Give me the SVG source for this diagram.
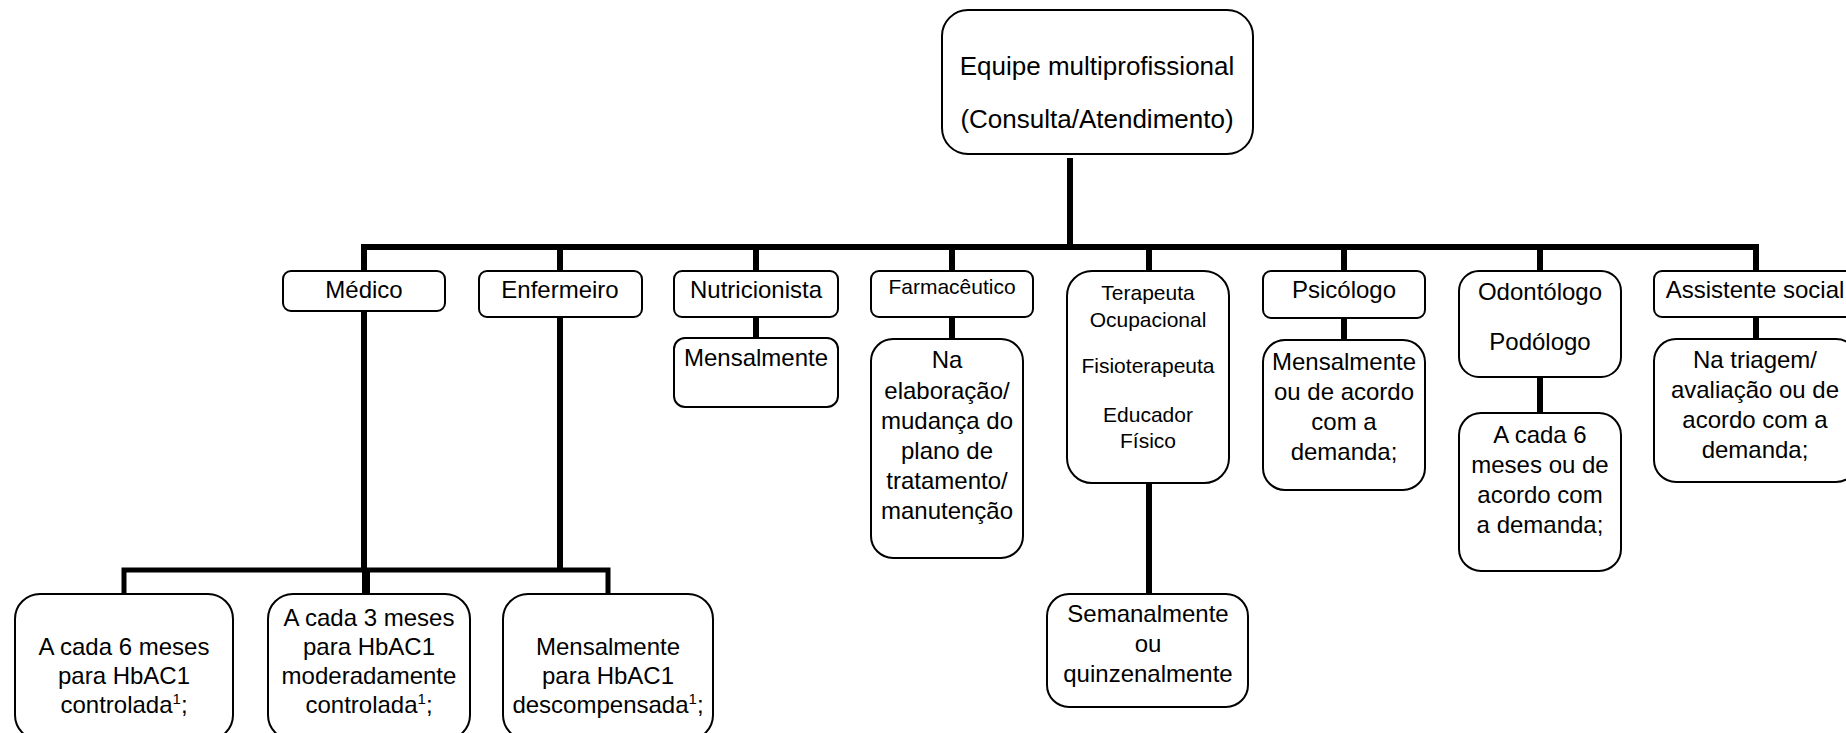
<svg xmlns="http://www.w3.org/2000/svg" width="1846" height="733" viewBox="0 0 1846 733">
<style>
.box{fill:#fff;stroke:#000;stroke-width:2}
.t{font-family:"Liberation Sans",Arial,sans-serif;font-size:24px;fill:#000;text-anchor:middle}
.s{font-size:21px}
.big{font-size:26px}
.con{fill:none;stroke:#000;stroke-width:6;stroke-linejoin:miter;stroke-linecap:butt}
.sup{font-size:15px}
</style>
<rect width="1846" height="733" fill="#fff"/>
<g id="connectors">
<path class="con" d="M1070,158 V247"/>
<path class="con" d="M364,271 V247 H1756 V271"/>
<path class="con" d="M560,247 V271 M756,247 V271 M952,247 V271 M1149,247 V271 M1344,247 V271 M1540,247 V271"/>
<path class="con" d="M364,311 V570 M560,317 V570"/>
<path class="con" style="stroke-width:5" d="M124,594 V570 H608 V594"/>
<path class="con" style="stroke-width:8" d="M366,570 V594"/>
<path class="con" d="M756,317 V338 M952,317 V339 M1149,483 V594 M1344,318 V340 M1540,377 V413 M1756,317 V339"/>
</g>
<g id="equipe">
<rect class="box" x="942" y="10" width="311" height="144" rx="26"/>
<text class="t big" x="1097" y="75">Equipe multiprofissional</text>
<text class="t big" x="1097" y="128">(Consulta/Atendimento)</text>
</g>
<g id="medico">
<rect class="box" x="283" y="271" width="162" height="40" rx="8"/>
<text class="t" x="364" y="298">Médico</text>
</g>
<g id="enfermeiro">
<rect class="box" x="479" y="271" width="163" height="46" rx="8"/>
<text class="t" x="560" y="298">Enfermeiro</text>
</g>
<g id="nutricionista">
<rect class="box" x="674" y="271" width="164" height="46" rx="8"/>
<text class="t" x="756" y="298">Nutricionista</text>
</g>
<g id="nutri-freq">
<rect class="box" x="674" y="338" width="164" height="69" rx="11"/>
<text class="t" x="756" y="366">Mensalmente</text>
</g>
<g id="farmaceutico">
<rect class="box" x="871" y="271" width="162" height="46" rx="8"/>
<text class="t s" x="952" y="294">Farmacêutico</text>
</g>
<g id="farm-freq">
<rect class="box" x="871" y="339" width="152" height="219" rx="22"/>
<text class="t" x="947" y="368">Na</text>
<text class="t" x="947" y="399">elaboração/</text>
<text class="t" x="947" y="429">mudança do</text>
<text class="t" x="947" y="459">plano de</text>
<text class="t" x="947" y="489">tratamento/</text>
<text class="t" x="947" y="519">manutenção</text>
</g>
<g id="terapeuta">
<rect class="box" x="1067" y="271" width="162" height="212" rx="25"/>
<text class="t s" x="1148" y="300">Terapeuta</text>
<text class="t s" x="1148" y="327">Ocupacional</text>
<text class="t s" x="1148" y="373">Fisioterapeuta</text>
<text class="t s" x="1148" y="422">Educador</text>
<text class="t s" x="1148" y="448">Físico</text>
</g>
<g id="terap-freq">
<rect class="box" x="1047" y="594" width="201" height="113" rx="22"/>
<text class="t" x="1148" y="622">Semanalmente</text>
<text class="t" x="1148" y="652">ou</text>
<text class="t" x="1148" y="682">quinzenalmente</text>
</g>
<g id="psicologo">
<rect class="box" x="1263" y="271" width="162" height="47" rx="8"/>
<text class="t" x="1344" y="298">Psicólogo</text>
</g>
<g id="psic-freq">
<rect class="box" x="1263" y="340" width="162" height="150" rx="22"/>
<text class="t" x="1344" y="370">Mensalmente</text>
<text class="t" x="1344" y="400">ou de acordo</text>
<text class="t" x="1344" y="430">com a</text>
<text class="t" x="1344" y="460">demanda;</text>
</g>
<g id="odontologo">
<rect class="box" x="1459" y="271" width="162" height="106" rx="20"/>
<text class="t" x="1540" y="300">Odontólogo</text>
<text class="t" x="1540" y="350">Podólogo</text>
</g>
<g id="odont-freq">
<rect class="box" x="1459" y="413" width="162" height="158" rx="22"/>
<text class="t" x="1540" y="443">A cada 6</text>
<text class="t" x="1540" y="473">meses ou de</text>
<text class="t" x="1540" y="503">acordo com</text>
<text class="t" x="1540" y="533">a demanda;</text>
</g>
<g id="assistente">
<rect class="box" x="1654" y="271" width="204" height="46" rx="8"/>
<text class="t" x="1755" y="298">Assistente social</text>
</g>
<g id="assist-freq">
<rect class="box" x="1654" y="339" width="204" height="143" rx="22"/>
<text class="t" x="1755" y="368">Na triagem/</text>
<text class="t" x="1755" y="398">avaliação ou de</text>
<text class="t" x="1755" y="428">acordo com a</text>
<text class="t" x="1755" y="458">demanda;</text>
</g>
<g id="hba-controlada">
<rect class="box" x="15" y="594" width="218" height="146" rx="25"/>
<text class="t" x="124" y="655">A cada 6 meses</text>
<text class="t" x="124" y="684">para HbAC1</text>
<text class="t" x="124" y="713">controlada<tspan class="sup" dy="-9">1</tspan><tspan dy="9">;</tspan></text>
</g>
<g id="hba-moderada">
<rect class="box" x="268" y="594" width="202" height="146" rx="25"/>
<text class="t" x="369" y="626">A cada 3 meses</text>
<text class="t" x="369" y="655">para HbAC1</text>
<text class="t" x="369" y="684">moderadamente</text>
<text class="t" x="369" y="713">controlada<tspan class="sup" dy="-9">1</tspan><tspan dy="9">;</tspan></text>
</g>
<g id="hba-descompensada">
<rect class="box" x="503" y="594" width="210" height="146" rx="25"/>
<text class="t" x="608" y="655">Mensalmente</text>
<text class="t" x="608" y="684">para HbAC1</text>
<text class="t" x="608" y="713">descompensada<tspan class="sup" dy="-9">1</tspan><tspan dy="9">;</tspan></text>
</g>
</svg>
